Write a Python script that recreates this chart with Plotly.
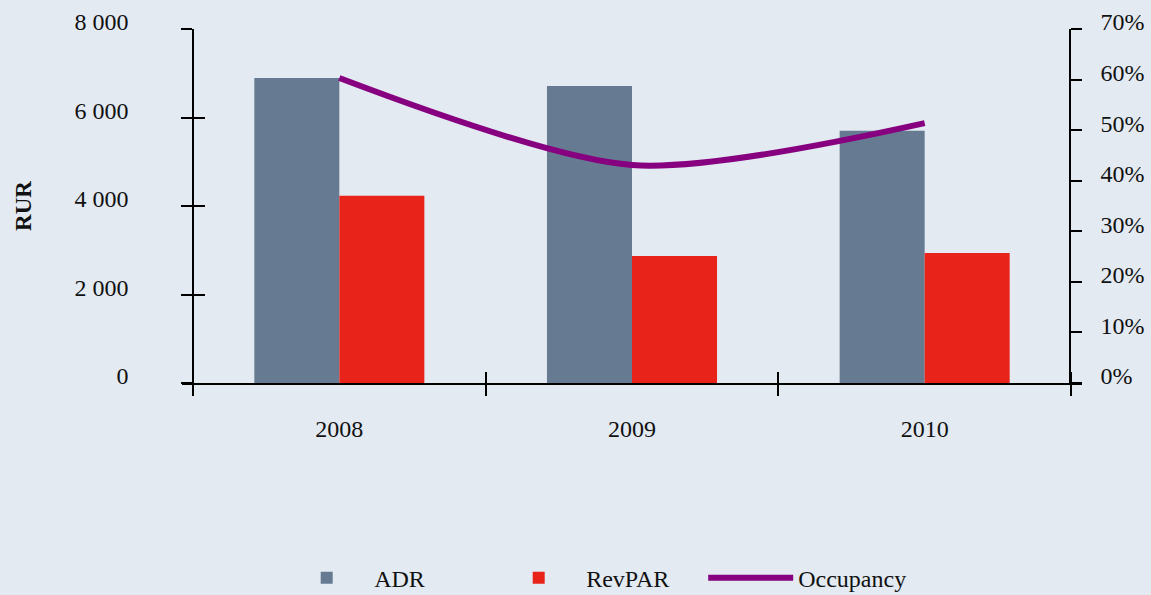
import plotly.graph_objects as go

years = ["2008", "2009", "2010"]
adr = [6890, 6710, 5700]
revpar = [4230, 2870, 2940]
occupancy = [0.603, 0.431, 0.514]

left_ticks = [0, 2000, 4000, 6000, 8000]
left_labels = ["0", "2 000", "4 000", "6 000", "8 000"]
right_ticks = [0, 0.1, 0.2, 0.3, 0.4, 0.5, 0.6, 0.7]
right_labels = ["0%", "10%", "20%", "30%", "40%", "50%", "60%", "70%"]

BG = "#e3eaf1"
FONT = "Liberation Serif"
delta = 0.0376
xr = [-0.5 - delta, 2.5 + delta]
ypos_l = 11 / 900
ypos_r = 888 / 900

fig = go.Figure()
fig.add_trace(go.Bar(x=years, y=adr, name="ADR", marker_color="#667b91",
                     marker_line_width=0))
fig.add_trace(go.Bar(x=years, y=revpar, name="RevPAR", marker_color="#e8241a",
                     marker_line_width=0))
fig.add_trace(go.Scatter(x=years, y=occupancy, name="Occupancy", yaxis="y2",
                         mode="lines", line=dict(color="#860080", width=6,
                                                 shape="spline", smoothing=0.8)))
# empty helper trace so the overlay tick axes (inner halves of crossing ticks) get drawn
fig.add_trace(go.Scatter(x=[None], y=[None], xaxis="x2", yaxis="y3",
                         showlegend=False, hoverinfo="skip", mode="lines"))

fig.update_layout(
    width=1151, height=595,
    paper_bgcolor=BG, plot_bgcolor=BG,
    margin=dict(l=182, r=69, t=29, b=212, autoexpand=False),
    font=dict(family=FONT, size=24, color="#111111"),
    barmode="group", bargap=0.419, bargroupgap=0,
    showlegend=True,
    legend=dict(orientation="h", x=0.108, xanchor="left", y=-0.551, yanchor="middle",
                font=dict(size=24), bgcolor="rgba(0,0,0,0)", itemwidth=85,
                entrywidth=112, entrywidthmode="pixels",
                traceorder="normal"),
    xaxis=dict(type="category", range=xr, domain=[0, 1], automargin=False,
               showline=True, linecolor="black", linewidth=1.5,
               ticks="outside", ticklen=11, tickcolor="black", tickwidth=1.5,
               tickson="boundaries", showgrid=False, zeroline=False,
               ticklabelstandoff=23, tickfont=dict(size=24)),
    xaxis2=dict(overlaying="x", anchor="y", side="bottom", range=xr,
                tickvals=[-0.5, 0.5, 1.5, 2.5], ticks="inside", ticklen=11,
                tickcolor="black", tickwidth=1.5, showticklabels=False,
                showgrid=False, zeroline=False, showline=False, automargin=False),
    yaxis=dict(range=[0, 8000], anchor="free", position=ypos_l, automargin=False,
               tickvals=left_ticks, ticktext=left_labels,
               showline=True, linecolor="black", linewidth=1.5,
               ticks="outside", ticklen=11, tickcolor="black", tickwidth=1.5,
               showgrid=False, zeroline=False, ticklabelstandoff=48,
               ticklabelshift=-7,
               title=dict(text="<b>RUR</b>", standoff=35, font=dict(size=23))),
    yaxis3=dict(overlaying="y", anchor="free", position=ypos_l, range=[0, 8000],
                tickvals=left_ticks, ticks="inside", ticklen=11, automargin=False,
                tickcolor="black", tickwidth=1.5, showticklabels=False,
                showgrid=False, zeroline=False, showline=False),
    yaxis2=dict(overlaying="y", side="right", anchor="free", position=ypos_r,
                range=[0, 0.7], tickvals=right_ticks, ticktext=right_labels,
                automargin=False,
                showline=True, linecolor="black", linewidth=1.5,
                ticks="outside", ticklen=11, tickcolor="black", tickwidth=1.5,
                showgrid=False, zeroline=False, ticklabelstandoff=14,
                ticklabelshift=-7),
)

fig.write_html("out.html", config={"displayModeBar": False},
               post_script="document.body.style.margin='0';"
                           "document.body.style.overflow='hidden';")
